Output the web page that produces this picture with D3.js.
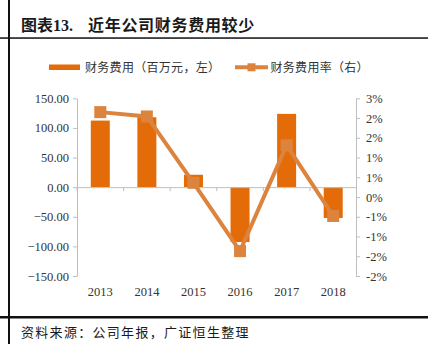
<!DOCTYPE html>
<html>
<head>
<meta charset="utf-8">
<script src="https://cdn.jsdelivr.net/npm/d3@7"></script>
<style>
  html, body { margin: 0; padding: 0; background: #fff; }
  svg { display: block; }
</style>
</head>
<body>
<svg id="chart" width="428" height="346"></svg>
<script>
const categories = ["2013", "2014", "2015", "2016", "2017", "2018"];
const expense = [112.4, 118.0, 20.9, -92.7, 123.7, -52.0];      // 财务费用（百万元，左）
const expenseRate = [2.15, 2.04, 0.36, -1.37, 1.31, -0.48];     // 财务费用率（右）, %
const leftTicks = [150, 100, 50, 0, -50, -100, -150];
const rightTicks = [2.5, 2.0, 1.5, 1.0, 0.5, 0, -0.5, -1.0, -1.5, -2.0];

const titleMain = "图表13.";
const titleText = "近年公司财务费用较少";
const legendBar = "财务费用（百万元，左）";
const legendLine = "财务费用率（右）";
const sourceText = "资料来源：公司年报，广证恒生整理";

const barColor = "#E36C09";
const lineColor = "#DC843E";
const axisColor = "#BFBFBF";
const textColor = "#333333";
const cjk = "'Noto Sans CJK SC', sans-serif";
const serif = "'Liberation Serif', 'Times New Roman', serif";

const svg = d3.select("#chart");

// frame lines
svg.append("rect").attr("x", 8).attr("y", 0).attr("width", 2).attr("height", 344).attr("fill", "#111");
svg.append("rect").attr("x", 0).attr("y", 37.3).attr("width", 428).attr("height", 1.5).attr("fill", "#111");
svg.append("rect").attr("x", 0).attr("y", 316).attr("width", 428).attr("height", 2.5).attr("fill", "#111");

// title
svg.append("text").attr("x", 21).attr("y", 30.5)
  .attr("font-family", "'Liberation Serif', 'Noto Sans CJK SC', serif")
  .attr("font-weight", "bold").attr("font-size", 16).attr("fill", "#1a1a1a")
  .text(titleMain);
svg.append("text").attr("x", 88).attr("y", 30.5)
  .attr("font-family", cjk).attr("font-weight", "bold").attr("font-size", 16)
  .attr("letter-spacing", 0.7).attr("fill", "#1a1a1a")
  .text(titleText);

// source
svg.append("text").attr("x", 21).attr("y", 337)
  .attr("font-family", cjk).attr("font-size", 13).attr("letter-spacing", 1.3)
  .attr("fill", "#1a1a1a").text(sourceText);

// scales
const x = d3.scaleBand().domain(categories).range([77, 356.5]).paddingInner(0).paddingOuter(0);
const yL = d3.scaleLinear().domain([-150, 150]).range([276, 98.3]);
const yR = d3.scaleLinear().domain([-2, 2.5]).range([276, 98.3]);

// left axis
const leftAxis = d3.axisLeft(yL).tickValues(leftTicks).tickFormat(d3.format(".2f")).tickSize(4).tickSizeOuter(0);
const gL = svg.append("g").attr("transform", "translate(77,0)").call(leftAxis);
gL.select(".domain").attr("stroke", axisColor);
gL.selectAll(".tick line").attr("stroke", axisColor);
gL.selectAll(".tick text").attr("font-family", serif).attr("font-size", 12.5).attr("fill", textColor).attr("x", -8);

// right axis
const fmtR = d => (d < 0 ? -1 : 1) * Math.round(Math.abs(d)) + "%";
const rightAxis = d3.axisRight(yR).tickValues(rightTicks).tickFormat(fmtR).tickSize(4).tickSizeOuter(0);
const gR = svg.append("g").attr("transform", "translate(356,0)").call(rightAxis);
gR.select(".domain").attr("stroke", axisColor);
gR.selectAll(".tick line").attr("stroke", axisColor);
gR.selectAll(".tick text").attr("font-family", serif).attr("font-size", 12.5).attr("fill", textColor).attr("x", 10);

// bars
const barW = 19;
svg.append("g").selectAll("rect").data(categories).join("rect")
  .attr("x", (d) => x(d) + x.bandwidth() / 2 - barW / 2)
  .attr("y", (d, i) => yL(Math.max(0, expense[i])))
  .attr("width", barW)
  .attr("height", (d, i) => Math.abs(yL(expense[i]) - yL(0)))
  .attr("fill", barColor);

// category axis at zero
const xAxis = d3.axisBottom(x).tickSize(4).tickSizeOuter(0).tickFormat("");
const gX = svg.append("g").attr("transform", `translate(0,${yL(0)})`).call(xAxis);
gX.select(".domain").attr("stroke", axisColor);
gX.selectAll(".tick").attr("transform", d => `translate(${x(d)},0)`);
gX.selectAll(".tick line").attr("stroke", axisColor);

// category labels
svg.append("g").selectAll("text").data(categories).join("text")
  .attr("x", d => x(d) + x.bandwidth() / 2)
  .attr("y", 296)
  .attr("text-anchor", "middle")
  .attr("font-family", serif).attr("font-size", 12.5).attr("fill", textColor)
  .text(d => d);

// line
const line = d3.line().x((d, i) => x(categories[i]) + x.bandwidth() / 2).y(d => yR(d));
svg.append("path").datum(expenseRate).attr("d", line)
  .attr("fill", "none").attr("stroke", lineColor).attr("stroke-width", 4);
const mk = 12;
svg.append("g").selectAll("rect").data(expenseRate).join("rect")
  .attr("x", (d, i) => x(categories[i]) + x.bandwidth() / 2 - mk / 2)
  .attr("y", d => yR(d) - mk / 2)
  .attr("width", mk).attr("height", mk)
  .attr("fill", lineColor);

// legend
svg.append("rect").attr("x", 49).attr("y", 64.5).attr("width", 31).attr("height", 5.5).attr("fill", barColor);
svg.append("text").attr("x", 85).attr("y", 71.5).attr("font-family", cjk).attr("font-size", 12)
  .attr("letter-spacing", 0.3).attr("fill", textColor).text(legendBar);
svg.append("line").attr("x1", 235).attr("x2", 268).attr("y1", 67.3).attr("y2", 67.3)
  .attr("stroke", lineColor).attr("stroke-width", 4);
svg.append("rect").attr("x", 247.5).attr("y", 63.3).attr("width", 8).attr("height", 8).attr("fill", lineColor);
svg.append("text").attr("x", 270.5).attr("y", 71.5).attr("font-family", cjk).attr("font-size", 12)
  .attr("letter-spacing", 0.3).attr("fill", textColor).text(legendLine);
</script>
</body>
</html>
